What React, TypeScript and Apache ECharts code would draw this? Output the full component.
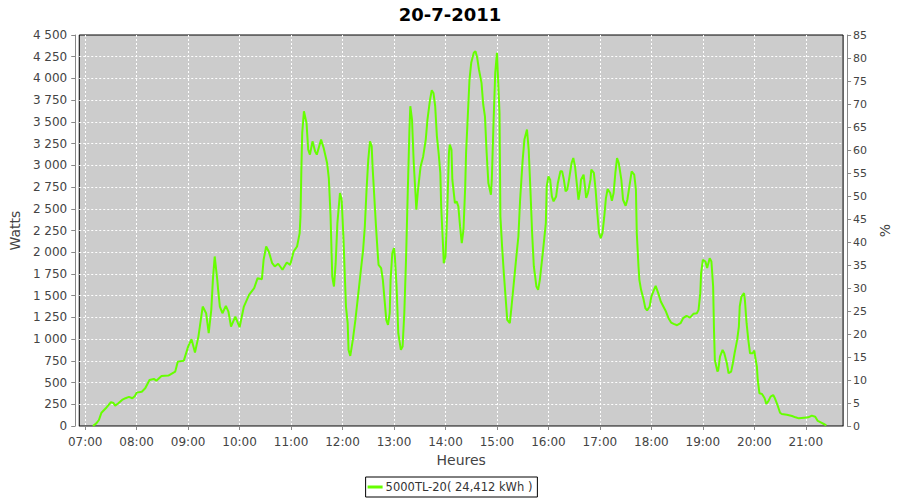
import React, { useEffect, useRef } from "react";
import * as echarts from "echarts";

const TITLE = "20-7-2011";
const SERIES_NAME = "5000TL-20( 24,412 kWh )";
const LEFT_AXIS_NAME = "Watts";
const RIGHT_AXIS_NAME = "%";
const X_AXIS_NAME = "Heures";

const times: string[] = [
  "07:09","07:13","07:16","07:19","07:24","07:30","07:33","07:35","07:39","07:43","07:47","07:51","07:55","07:58",
  "08:00","08:06","08:10","08:15","08:20","08:23","08:29","08:37","08:45","08:48","08:55",
  "09:00","09:04","09:08","09:12","09:17","09:21","09:24","09:27","09:29","09:31","09:34","09:35","09:37","09:40","09:44","09:47","09:50","09:55",
  "10:00","10:05","10:11","10:17","10:21","10:26","10:28","10:31","10:34","10:38","10:41","10:45","10:50","10:55","10:59",
  "11:03","11:07","11:10","11:11","11:12","11:13","11:15","11:18","11:20","11:22","11:25","11:28","11:30","11:35","11:38","11:42","11:44","11:46","11:48","11:50","11:52","11:54","11:57","11:59",
  "12:01","12:04","12:06","12:07","12:09","12:12","12:15","12:18","12:21","12:24","12:26","12:28","12:30","12:32","12:34","12:35","12:37","12:39","12:41","12:42","12:45","12:47","12:49","12:51","12:53","12:55","12:56","12:58",
  "13:00","13:01","13:03","13:05","13:08","13:10","13:12","13:14","13:16","13:18","13:19","13:21","13:23","13:25","13:26","13:28","13:31","13:34","13:37","13:39","13:42","13:44","13:46","13:48","13:50","13:52","13:54","13:55","13:57","13:58",
  "14:00","14:02","14:04","14:05","14:07","14:08","14:11","14:13","14:15","14:17","14:19","14:21","14:23","14:24","14:26","14:28","14:30","14:33","14:35","14:37","14:39","14:42","14:44","14:46","14:48","14:50","14:53","14:54","14:56","14:58",
  "15:00","15:01","15:03","15:04","15:06","15:08","15:10","15:12","15:15","15:17","15:20","15:23","15:25","15:27","15:30","15:32","15:35","15:37","15:39","15:41","15:43","15:46","15:48","15:50","15:53","15:57","15:58",
  "16:00","16:02","16:04","16:06","16:09","16:11","16:14","16:16","16:18","16:20","16:22","16:24","16:27","16:29","16:31","16:33","16:35","16:37","16:38","16:41","16:43","16:44","16:46","16:49","16:50","16:53","16:55","16:57","16:59",
  "17:01","17:03","17:05","17:07","17:09","17:12","17:14","17:16","17:18","17:20","17:22","17:25","17:27","17:30","17:32","17:35","17:37","17:40","17:42","17:43","17:45","17:46","17:48","17:51","17:53","17:55","17:58",
  "18:00","18:03","18:05","18:08","18:11","18:14","18:17","18:20","18:23","18:26","18:30","18:34","18:37","18:41","18:45","18:49","18:53","18:55","18:57","18:58",
  "19:00","19:03","19:05","19:08","19:10","19:12","19:13","19:14","19:17","19:18","19:20","19:23","19:25","19:28","19:30","19:33","19:35","19:37","19:40","19:42","19:43","19:45","19:48","19:49","19:51","19:53","19:55","19:58",
  "20:00","20:01","20:03","20:04","20:06","20:09","20:12","20:14","20:16","20:19","20:22","20:24","20:27","20:30","20:32","20:38","20:44","20:48","20:52","20:58",
  "21:03","21:07","21:11","21:14","21:18","21:21","21:24"
];

const watts: number[] = [
  0,30,69,153,204,275,265,234,265,300,320,335,319,345,
  384,395,434,530,542,522,576,580,626,741,752,
  914,999,845,1029,1375,1298,1068,1337,1702,1951,1682,1567,1375,1298,1383,1317,1144,1260,
  1137,1375,1510,1586,1702,1690,1913,2066,2008,1874,1836,1867,1798,1882,1855,
  2008,2066,2220,2412,2950,3373,3622,3488,3180,3123,3276,3161,3123,3296,3200,3027,2854,2431,1720,1605,1874,2335,2681,2604,
  2181,1375,1183,876,807,991,1221,1490,1759,2028,2297,2720,3065,3276,3219,2988,2642,2297,1990,1855,1817,1682,1452,1221,1164,1298,1682,1990,
  2048,1951,1605,1068,876,914,1298,1913,2681,3411,3680,3526,3027,2681,2489,2720,2988,3103,3296,3526,3757,3864,3833,3680,3334,3142,2912,2527,2105,1874,
  1951,2451,3142,3238,3180,2835,2566,2585,2527,2297,2105,2259,2758,3142,3564,3987,4180,4295,4313,4237,4103,3949,3700,3564,3142,2797,2662,2835,3488,4064,
  4295,4064,3603,2412,2066,1759,1490,1221,1183,1375,1682,1990,2181,2604,3065,3296,3411,3180,2720,2220,1836,1605,1567,1682,1951,2335,2758,
  2873,2835,2642,2585,2642,2797,2931,2931,2835,2700,2720,2835,3027,3084,2988,2797,2604,2720,2835,2892,2720,2624,2681,2835,2950,2912,2720,2451,2220,
  2162,2220,2400,2620,2727,2681,2593,2681,2912,3084,3027,2835,2604,2535,2604,2797,2931,2892,2720,2220,1836,1682,1567,1452,1356,1329,1375,
  1490,1567,1613,1529,1433,1375,1317,1241,1191,1175,1160,1183,1241,1268,1248,1291,1298,1337,1529,1759,
  1913,1893,1817,1932,1893,1605,1106,760,626,645,799,876,837,722,607,626,722,837,991,1144,1375,1490,1529,1452,1183,991,837,837,
  868,799,683,530,376,369,319,254,280,338,357,319,242,153,138,130,115,100,88,96,
  100,119,107,58,38,23,8
];

const X_MIN = "06:53";
const X_MAX = "21:43";

function ts(hm: string, extraSec = 0): number {
  const [h, m] = hm.split(":").map(Number);
  return new Date(2011, 6, 20, h, m, extraSec).getTime();
}
const pad = (n: number) => (n < 10 ? "0" + n : String(n));
const fmtThousands = (v: number) =>
  v >= 1000 ? Math.floor(v / 1000) + " " + String(v % 1000).padStart(3, "0") : String(v);

const FONT = "DejaVu Sans";
const GRID_LINE = { show: true, showMinLine: false, showMaxLine: false, lineStyle: { color: "#ffffff", type: [2, 2], width: 1 } };

export default function App() {
  const ref = useRef<HTMLDivElement>(null);
  useEffect(() => {
    if (!ref.current) return;
    const chart = echarts.init(ref.current, undefined, { renderer: "svg" });
    const data = times.map((t, i) => [ts(t), watts[i]]);
    chart.setOption({
      animation: false,
      backgroundColor: "#ffffff",
      title: {
        text: TITLE,
        left: "center",
        top: 0,
        textStyle: { fontFamily: FONT, fontSize: 18, fontWeight: "bold", color: "#000" },
      },
      legend: {
        bottom: 3,
        left: "center",
        data: [SERIES_NAME],
        icon: "rect",
        itemWidth: 15,
        itemHeight: 3,
        itemGap: 4,
        borderColor: "#000",
        borderWidth: 1,
        borderRadius: 0,
        padding: [4, 5, 4, 2],
        textStyle: { fontFamily: FONT, fontSize: 11.5, color: "#333", padding: [0, 0, 0, -2] },
      },
      grid: {
        left: 75,
        right: 53,
        top: 35,
        bottom: 74,
        show: true,
        backgroundColor: "#cccccc",
        borderColor: "#000",
        borderWidth: 1,
      },
      xAxis: {
        type: "time",
        min: ts(X_MIN, 6),
        max: ts(X_MAX, 30),
        minInterval: 3600000,
        maxInterval: 3600000,
        offset: 4,
        name: X_AXIS_NAME,
        nameLocation: "middle",
        nameGap: 23,
        nameTextStyle: { fontFamily: FONT, fontSize: 14, color: "#444" },
        axisLine: { show: true, lineStyle: { color: "#888" } },
        axisTick: { show: true, length: 4, lineStyle: { color: "#888" } },
        axisLabel: {
          fontFamily: FONT,
          fontSize: 12,
          color: "#444",
          margin: 6,
          showMinLabel: false,
          showMaxLabel: false,
          hideOverlap: false,
          formatter: (v: number) => {
            const d = new Date(v);
            return pad(d.getHours()) + ":" + pad(d.getMinutes());
          },
        },
        splitLine: GRID_LINE,
      },
      yAxis: [
        {
          type: "value",
          min: 0,
          max: 4500,
          interval: 250,
          offset: 4,
          position: "left",
          name: LEFT_AXIS_NAME,
          nameLocation: "middle",
          nameGap: 48,
          nameTextStyle: { fontFamily: FONT, fontSize: 14, color: "#444" },
          axisLine: { show: true, lineStyle: { color: "#888" } },
          axisTick: { show: true, length: 4, lineStyle: { color: "#888" } },
          axisLabel: { fontFamily: FONT, fontSize: 12, color: "#444", margin: 8, formatter: fmtThousands },
          splitLine: GRID_LINE,
        },
        {
          type: "value",
          min: 0,
          max: 85,
          interval: 5,
          offset: 4,
          position: "right",
          name: RIGHT_AXIS_NAME,
          nameLocation: "middle",
          nameGap: 30,
          nameTextStyle: { fontFamily: FONT, fontSize: 14, color: "#444" },
          axisLine: { show: true, lineStyle: { color: "#888" } },
          axisTick: { show: true, length: 4, lineStyle: { color: "#888" } },
          axisLabel: { fontFamily: FONT, fontSize: 11, color: "#444", margin: 6 },
          splitLine: { show: false },
        },
      ],
      series: [
        {
          name: SERIES_NAME,
          type: "line",
          yAxisIndex: 0,
          data,
          showSymbol: false,
          symbol: "none",
          color: "#66ff00",
          lineStyle: { color: "#66ff00", width: 2 },
        },
      ],
    });
    return () => chart.dispose();
  }, []);
  return <div ref={ref} style={{ position: "absolute", left: 0, top: 0, width: 900, height: 500 }} />;
}
